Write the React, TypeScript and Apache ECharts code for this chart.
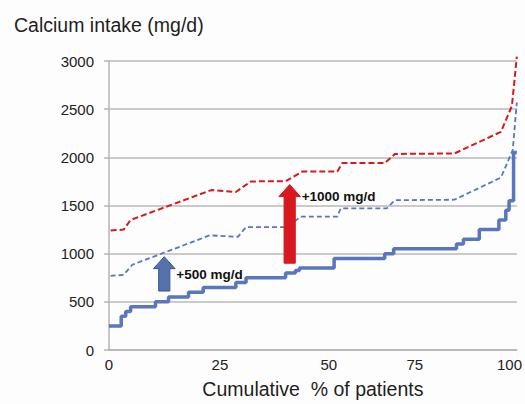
import React, { useEffect, useRef } from "react";
import * as echarts from "echarts";

// Cumulative % of patients (x) vs calcium intake in mg/d (y)
const solidX = [0, 3.0, 4.1, 5.3, 11.4, 14.6, 19.5, 23.1, 31.1, 33.6, 43.3, 45.7, 46.7, 55.2, 67.6, 69.8, 85.2, 86.9, 90.8, 95.6, 97.3, 98.1, 99.2, 100];
const solidY = [250, 350, 400, 450, 500, 550, 600, 650, 700, 750, 800, 825, 850, 950, 1000, 1050, 1100, 1150, 1250, 1350, 1450, 1550, 2050, 2050];

const plus500X = [0.4, 3.6, 5.7, 24.7, 31.6, 33.6, 43.0, 45.8, 47.0, 56.0, 56.8, 68.1, 70.1, 84.7, 96.1, 99.0, 100];
const plus500Y = [770, 780, 885, 1190, 1175, 1275, 1275, 1345, 1385, 1385, 1470, 1470, 1555, 1560, 1790, 2075, 2570];

const plus1000X = [0.4, 3.6, 5.3, 25.1, 31.1, 34.8, 43.3, 47.4, 56.0, 57.2, 67.6, 70.1, 84.7, 96.1, 98.8, 100];
const plus1000Y = [1240, 1250, 1350, 1660, 1640, 1750, 1752, 1853, 1853, 1940, 1940, 2035, 2040, 2265, 2535, 3045];

// Annotation arrows
const arrowX = [13.55, 44.3];
const arrowFrom = [612, 901];
const arrowTo = [969, 1717];
const arrowLabelAt = [781, 1592];
const arrowLabels = ["+500 mg/d", "+1000 mg/d"];

const yTicks = [0, 500, 1000, 1500, 2000, 2500, 3000];
const xTickLabels = ["0", "25", "50", "75", "100"];
const xTickAt = [0, 27.2, 53.9, 75, 98.2];

const FONT = "'Liberation Sans', Arial, sans-serif";
const BLUE = "#5877bd";
const RED = "#d7181f";

function zip(xs: number[], ys: number[]) {
  return xs.map((x, i) => [x, ys[i]]);
}

export default function App() {
  const ref = useRef<HTMLDivElement>(null);
  useEffect(() => {
    if (!ref.current) return;
    const chart = echarts.init(ref.current, undefined, { renderer: "svg" });
    const arrowFill = ["#5572ad", RED];
    const arrowStroke = ["#3c5788", RED];
    chart.setOption({
      animation: false,
      backgroundColor: "#fdfdfd",
      title: {
        text: "Calcium intake (mg/d)",
        left: 9,
        top: 10,
        textStyle: { fontFamily: FONT, fontSize: 19.5, fontWeight: "normal", color: "#1e1e1e" },
      },
      grid: { left: 109, right: 4, top: 61, bottom: 49, containLabel: false },
      xAxis: {
        type: "value",
        min: 0,
        max: 100,
        name: "Cumulative  % of patients",
        nameLocation: "middle",
        nameGap: 29,
        nameTextStyle: { fontFamily: FONT, fontSize: 19.5, color: "#1e1e1e" },
        axisLine: { show: true, onZero: false, lineStyle: { color: "#b4b4b4", width: 1.5 } },
        axisTick: { show: false },
        splitLine: { show: false },
        axisLabel: {
          customValues: xTickAt,
          margin: 7,
          fontFamily: FONT,
          fontSize: 15,
          color: "#222",
          formatter: (v: number) => {
            const i = xTickAt.findIndex((p) => Math.abs(p - v) < 1e-6);
            return i >= 0 ? xTickLabels[i] : "";
          },
        },
      },
      yAxis: {
        type: "value",
        min: 0,
        max: 3000,
        interval: 500,
        axisLine: { show: true, lineStyle: { color: "#b4b4b4", width: 1.5 } },
        axisTick: { show: true, length: 5, lineStyle: { color: "#b4b4b4", width: 1.5 } },
        splitLine: { show: true, lineStyle: { color: "#b8b8b8", width: 1.5 } },
        axisLabel: {
          margin: 15,
          fontFamily: FONT,
          fontSize: 15,
          color: "#222",
          formatter: (v: number) => (yTicks.includes(v) ? String(v) : ""),
        },
      },
      series: [
        {
          name: "+1000 mg/d",
          type: "line",
          data: zip(plus1000X, plus1000Y),
          symbol: "none",
          clip: false,
          lineStyle: { color: RED, width: 2, type: [6, 3] },
          z: 2,
        },
        {
          name: "+500 mg/d",
          type: "line",
          data: zip(plus500X, plus500Y),
          symbol: "none",
          clip: false,
          lineStyle: { color: BLUE, width: 1.8, type: [5, 3] },
          z: 2,
        },
        {
          name: "Current intake",
          type: "line",
          step: "end",
          data: zip(solidX, solidY),
          symbol: "none",
          clip: false,
          lineStyle: { color: BLUE, width: 3.5 },
          z: 3,
        },
        {
          type: "custom",
          clip: false,
          z: 5,
          encode: { x: 0, y: [1, 2] },
          data: arrowX.map((x, i) => [x, arrowFrom[i], arrowTo[i], arrowLabelAt[i]]),
          renderItem: (params: any, api: any) => {
            const i = params.dataIndex;
            const base = api.coord([api.value(0), api.value(1)]);
            const tip = api.coord([api.value(0), api.value(2)]);
            const lab = api.coord([api.value(0), api.value(3)]);
            const cx = base[0];
            const headLen = 12;
            const hw = 10.8;
            const sw = 5.6;
            const hb = tip[1] + headLen;
            return {
              type: "group",
              children: [
                {
                  type: "polygon",
                  shape: {
                    points: [
                      [cx - sw, base[1]],
                      [cx - sw, hb],
                      [cx - hw, hb],
                      [cx, tip[1]],
                      [cx + hw, hb],
                      [cx + sw, hb],
                      [cx + sw, base[1]],
                    ],
                  },
                  style: { fill: arrowFill[i], stroke: arrowStroke[i], lineWidth: 1 },
                },
                {
                  type: "text",
                  x: cx + 12,
                  y: lab[1],
                  style: {
                    text: arrowLabels[i],
                    fontFamily: FONT,
                    fontSize: 13.5,
                    fontWeight: "bold",
                    fill: "#111",
                    align: "left",
                    verticalAlign: "middle",
                  },
                },
              ],
            };
          },
        },
      ],
    });
    return () => chart.dispose();
  }, []);
  return (
    <div
      ref={ref}
      style={{ position: "fixed", left: 0, top: 0, width: 525, height: 404 }}
    />
  );
}
